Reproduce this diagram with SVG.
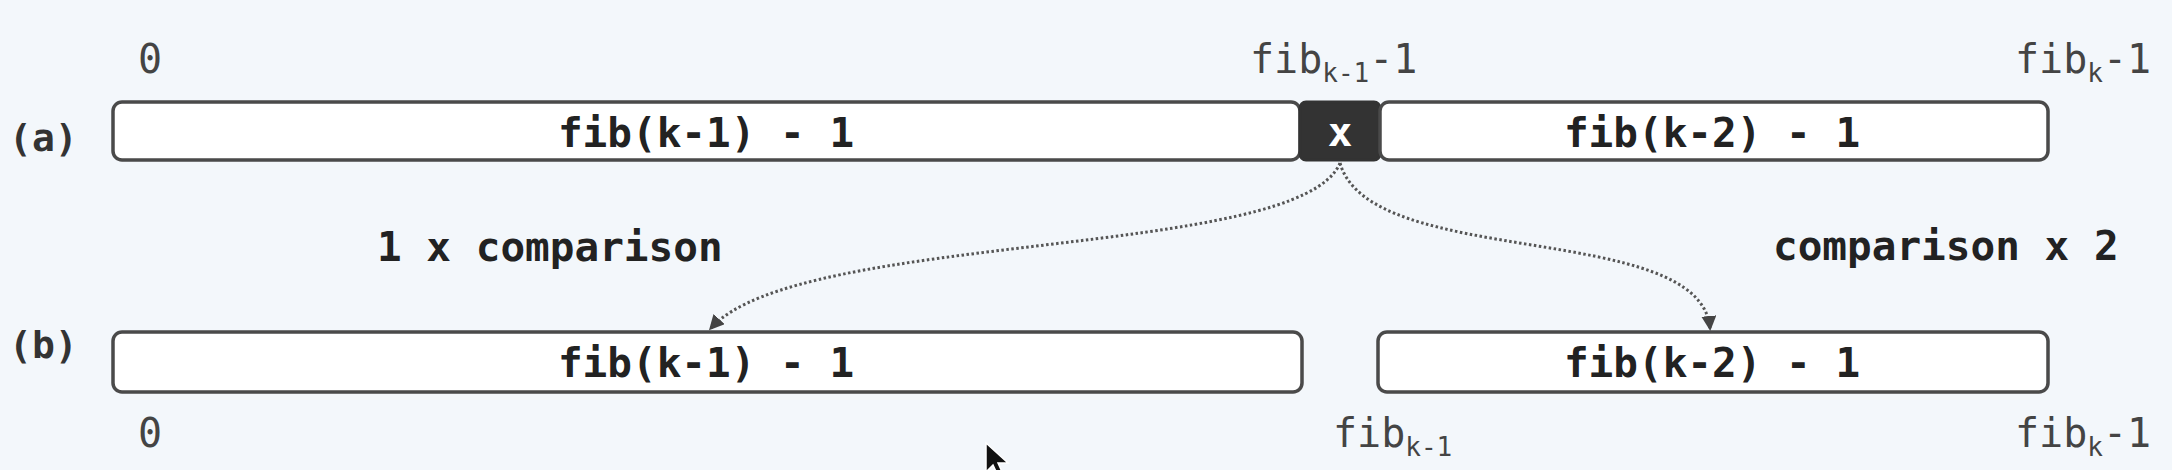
<svg xmlns="http://www.w3.org/2000/svg" width="2172" height="470" viewBox="0 0 2172 470">
<defs>
<style>
.bg{fill:#f3f7fb}
.box{fill:#ffffff;stroke:#4a4a4a;stroke-width:3.5}
.dark{fill:#333333;stroke:#333333;stroke-width:3}
.t{font-family:"DejaVu Sans Mono","Liberation Mono",monospace;font-size:41px;font-weight:bold;fill:#222}
.rl{font-family:"DejaVu Sans Mono","Liberation Mono",monospace;font-size:38px;font-weight:bold;fill:#333}
.lbl{font-family:"DejaVu Sans Mono","Liberation Mono",monospace;font-size:40px;fill:#444}
.sub{font-size:26px}
.conn{fill:none;stroke:#555;stroke-width:3;stroke-dasharray:2.5 2.5}
</style>
<marker id="ah" viewBox="0 0 10 10" refX="8" refY="5" markerWidth="5" markerHeight="5" orient="auto" markerUnits="strokeWidth">
<path d="M0,0 L10,5 L0,10 z" fill="#444"/>
</marker>
</defs>
<rect class="bg" x="0" y="0" width="2172" height="470"/>

<g id="row-a-label"><text class="rl" x="9" y="151">(a)</text></g>
<g id="row-b-label"><text class="rl" x="9" y="358">(b)</text></g>

<g id="a-left">
<rect class="box" x="113" y="102" width="1187" height="58" rx="9"/>
<text class="t" x="706" y="147" text-anchor="middle">fib(k-1) - 1</text>
</g>
<g id="a-x">
<rect class="dark" x="1300" y="102" width="80" height="58" rx="6"/>
<text class="t" x="1340" y="146" text-anchor="middle" style="fill:#fff">x</text>
</g>
<g id="a-right">
<rect class="box" x="1380" y="102" width="668" height="58" rx="9"/>
<text class="t" x="1712" y="147" text-anchor="middle">fib(k-2) - 1</text>
</g>

<g id="b-left">
<rect class="box" x="113" y="332" width="1189" height="60" rx="9"/>
<text class="t" x="706" y="377" text-anchor="middle">fib(k-1) - 1</text>
</g>
<g id="b-right">
<rect class="box" x="1378" y="332" width="670" height="60" rx="9"/>
<text class="t" x="1712" y="377" text-anchor="middle">fib(k-2) - 1</text>
</g>

<g id="labels">
<text class="lbl" x="150" y="73" text-anchor="middle">0</text>
<text class="lbl" x="1250" y="73">fib<tspan class="sub" dy="9">k-1</tspan><tspan dy="-9">-1</tspan></text>
<text class="lbl" x="2015" y="73">fib<tspan class="sub" dy="9">k</tspan><tspan dy="-9">-1</tspan></text>
<text class="lbl" x="150" y="447" text-anchor="middle">0</text>
<text class="lbl" x="1333" y="447">fib<tspan class="sub" dy="9">k-1</tspan></text>
<text class="lbl" x="2015" y="447">fib<tspan class="sub" dy="9">k</tspan><tspan dy="-9">-1</tspan></text>
<text class="t" x="377" y="261">1 x comparison</text>
<text class="t" x="1773" y="260">comparison x 2</text>
</g>

<g id="connectors">
<path class="conn" d="M1340,163 C1300,260 800,230 711,328" marker-end="url(#ah)"/>
<path class="conn" d="M1340,163 C1370,270 1700,220 1710,328" marker-end="url(#ah)"/>
</g>

<g id="cursor">
<path d="M986,443 L986,472 L993,465 L999,478 L1004,476 L998,463 L1008,463 Z" fill="#111" stroke="#fff" stroke-width="1.5"/>
</g>
</svg>
